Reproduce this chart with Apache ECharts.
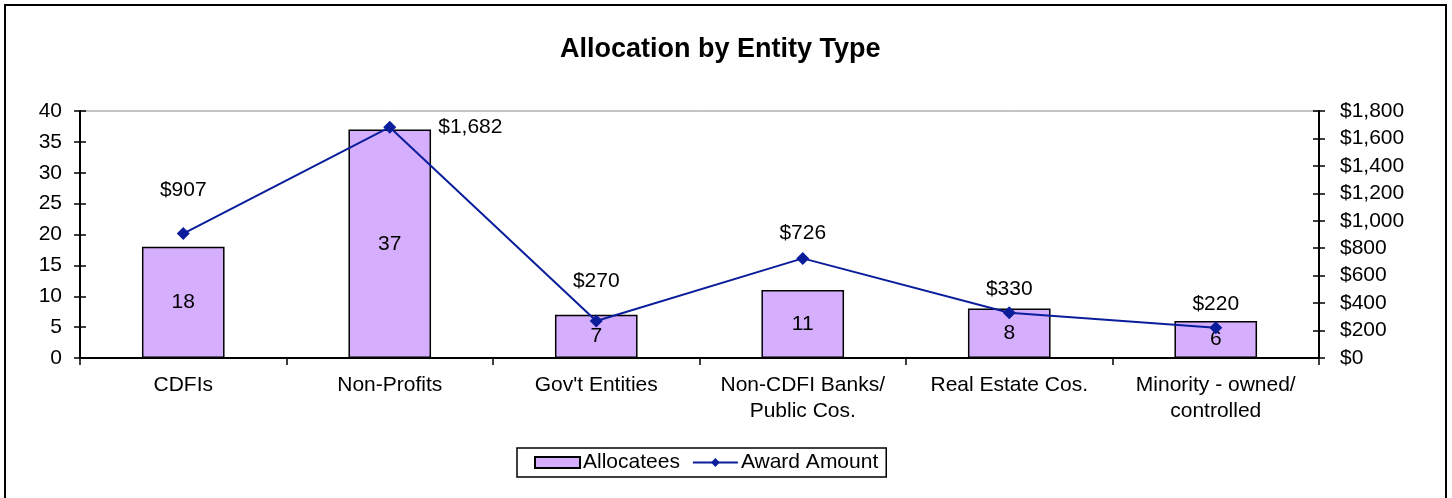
<!DOCTYPE html>
<html>
<head>
<meta charset="utf-8">
<script src="https://cdn.jsdelivr.net/npm/echarts@6/dist/echarts.min.js"></script>
<style>
html, body { margin:0; padding:0; background:#fff; }
#main { width:1452px; height:498px; }
</style>
</head>
<body>
<div id="main"></div>
<script>
var categories = ['CDFIs', 'Non-Profits', "Gov't Entities", 'Non-CDFI Banks/\nPublic Cos.', 'Real Estate Cos.', 'Minority - owned/\ncontrolled'];
var allocatees = [18, 37, 7, 11, 8, 6];
var awardAmount = [907, 1682, 270, 726, 330, 220];
var leftTicks = [0, 40, 5];
var rightTicks = [0, 1800, 200];

// where each line label sits, like the original
var awardLabelPos = [
    {position:'top', distance:26},
    {position:'right', distance:42},
    {position:'top', distance:23},
    {position:'top', distance:8},
    {position:'top', distance:7},
    {position:'top', distance:7}
];

var font = 'Liberation Sans, Arial, sans-serif';
var fs = 21;

function money(v) {
    return '$' + String(v).replace(/\B(?=(\d{3})+(?!\d))/g, ',');
}

var awardData = awardAmount.map(function(v, i) {
    return {
        value: v,
        label: {
            show: true,
            position: awardLabelPos[i].position,
            distance: awardLabelPos[i].distance
        }
    };
});

var tickStyle = {color: '#000', width: 1.5};

var option = {
    animation: false,
    title: {
        text: 'Allocation by Entity Type',
        left: 555,
        top: 31,
        textStyle: {
            fontFamily: font,
            fontSize: 27,
            fontWeight: 'bold',
            color: '#000'
        }
    },
    graphic: [{
        type: 'rect',
        shape: {x: 5, y: 5, width: 1441, height: 500},
        style: {fill: 'none', stroke: '#000', lineWidth: 2}
    }],
    legend: {
        left: 517,
        top: 448,
        padding: [4, 8, 4, 17],
        borderColor: '#000',
        borderWidth: 1.5,
        itemGap: 12,
        itemWidth: 45,
        itemHeight: 11,
        textStyle: {fontFamily: font, fontSize: fs, color: '#000', padding: [0, 0, 0, -2]},
        data: [
            {name: 'Allocatees', icon: 'rect'},
            {name: 'Award Amount'}
        ]
    },
    grid: {
        left: 80,
        right: 133,
        top: 111,
        bottom: 140,
        show: true,
        borderColor: '#888',
        borderWidth: 1
    },
    xAxis: {
        type: 'category',
        data: categories,
        axisLine: {lineStyle: {color: '#000', width: 2}},
        axisTick: {show: true, length: 7, lineStyle: tickStyle},
        axisLabel: {
            margin: 14,
            fontFamily: font,
            fontSize: fs,
            color: '#000',
            lineHeight: 26,
            interval: 0
        }
    },
    yAxis: [{
        type: 'value',
        position: 'left',
        min: leftTicks[0],
        max: leftTicks[1],
        interval: leftTicks[2],
        axisLine: {show: true, lineStyle: {color: '#000', width: 2}},
        axisTick: {show: true, length: 6, lineStyle: tickStyle},
        splitLine: {show: false},
        axisLabel: {margin: 18, fontFamily: font, fontSize: fs, color: '#000'}
    }, {
        type: 'value',
        position: 'right',
        min: rightTicks[0],
        max: rightTicks[1],
        interval: rightTicks[2],
        axisLine: {show: true, lineStyle: {color: '#000', width: 2}},
        axisTick: {show: true, length: 6, lineStyle: tickStyle},
        splitLine: {show: false},
        axisLabel: {
            margin: 21,
            fontFamily: font,
            fontSize: fs,
            color: '#000',
            formatter: money
        }
    }, {
        type: 'value',
        position: 'left',
        min: leftTicks[0],
        max: leftTicks[1],
        interval: leftTicks[2],
        axisLine: {show: false},
        axisTick: {show: true, inside: true, length: 6, lineStyle: tickStyle},
        splitLine: {show: false},
        axisLabel: {show: false}
    }, {
        type: 'value',
        position: 'right',
        min: rightTicks[0],
        max: rightTicks[1],
        interval: rightTicks[2],
        axisLine: {show: false},
        axisTick: {show: true, inside: true, length: 6, lineStyle: tickStyle},
        splitLine: {show: false},
        axisLabel: {show: false}
    }],
    series: [{
        name: 'Allocatees',
        type: 'bar',
        yAxisIndex: 0,
        barWidth: '40%',
        data: allocatees,
        itemStyle: {color: '#D5AEFD', borderColor: '#000', borderWidth: 1.5},
        label: {
            show: true,
            position: 'inside',
            fontFamily: font,
            fontSize: fs,
            color: '#000'
        },
        z: 2
    }, {
        name: 'Award Amount',
        type: 'line',
        yAxisIndex: 1,
        data: awardData,
        symbol: 'diamond',
        symbolSize: 13,
        lineStyle: {color: '#0A1E9C', width: 2},
        itemStyle: {color: '#0A1E9C'},
        label: {
            fontFamily: font,
            fontSize: fs,
            color: '#000',
            formatter: function(p) { return money(p.value); }
        },
        z: 3
    }]
};

var chart = echarts.init(document.getElementById('main'));
chart.setOption(option);
</script>
</body>
</html>
